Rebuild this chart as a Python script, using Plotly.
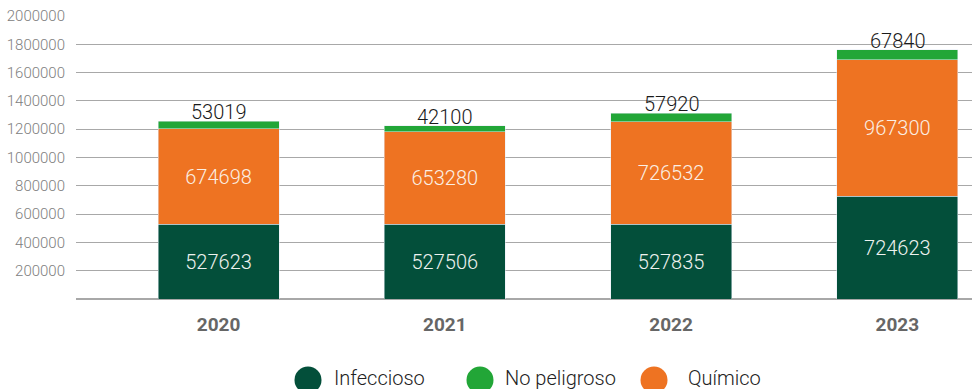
import plotly.graph_objects as go

# Residuos generados por año y tipo
years = ["2020", "2021", "2022", "2023"]
infeccioso = [527623, 527506, 527835, 724623]
quimico = [674698, 653280, 726532, 967300]
no_peligroso = [53019, 42100, 57920, 67840]

series_names = ["Infeccioso", "No peligroso", "Químico"]
y_ticks = [200000, 400000, 600000, 800000, 1000000, 1200000, 1400000, 1600000, 1800000, 2000000]

C_INF = "#034f3a"
C_NOP = "#22a637"
C_QUI = "#ee7322"
FONT = "Roboto"
LIGHT = 300

fig = go.Figure()
bar_w = 0.535
fig.add_trace(go.Bar(
    x=years, y=infeccioso, name="Infeccioso", marker_color=C_INF, width=bar_w,
    text=[str(v) for v in infeccioso], textposition="inside", insidetextanchor="middle",
    insidetextfont=dict(family=FONT, size=20, color="#eef2ef", weight=LIGHT), textangle=0,
))
fig.add_trace(go.Bar(
    x=years, y=quimico, name="Químico", marker_color=C_QUI, width=bar_w,
    text=[str(v) for v in quimico], textposition="inside", insidetextanchor="middle",
    insidetextfont=dict(family=FONT, size=20, color="#fbefe4", weight=LIGHT), textangle=0,
))
fig.add_trace(go.Bar(
    x=years, y=no_peligroso, name="No peligroso", marker_color=C_NOP, width=bar_w,
))

# Valor de "No peligroso" sobre cada columna (posición por índice de categoría)
totals = [a + b + c for a, b, c in zip(infeccioso, quimico, no_peligroso)]
annotations = []
for i, (tot, v) in enumerate(zip(totals, no_peligroso)):
    annotations.append(dict(
        x=i, y=tot, xref="x", yref="y", text=str(v), showarrow=False,
        yanchor="middle", yshift=9,
        font=dict(family=FONT, size=20, color="#1a1a1a", weight=LIGHT),
    ))

# Leyenda con círculos grandes
legend_items = [("Infeccioso", C_INF, 308, 332), ("No peligroso", C_NOP, 480, 503), ("Químico", C_QUI, 654, 686)]
shapes = []
plot_l, plot_w, plot_b, plot_h = 76, 896, 299, 283
for label, col, cx, tx in legend_items:
    xp = (cx - plot_l) / plot_w
    yp = (plot_b - 380) / plot_h
    shapes.append(dict(
        type="circle", xref="paper", yref="paper", xsizemode="pixel", ysizemode="pixel",
        xanchor=xp, yanchor=yp, x0=-13.5, x1=13.5, y0=-13.5, y1=13.5,
        fillcolor=col, line=dict(width=0),
    ))
    annotations.append(dict(
        x=(tx - plot_l) / plot_w, y=(plot_b - 378) / plot_h, xref="paper", yref="paper",
        text=label, showarrow=False, xanchor="left", yanchor="middle",
        font=dict(family=FONT, size=20, color="#222222", weight=LIGHT),
    ))

fig.update_layout(
    barmode="stack",
    width=972, height=389,
    margin=dict(l=76, r=0, t=16, b=90),
    paper_bgcolor="white", plot_bgcolor="white",
    showlegend=False,
    annotations=annotations,
    shapes=shapes,
    font=dict(family=FONT),
)
fig.update_xaxes(
    type="category", range=[-0.63, 3.33], showgrid=False, showline=False, ticks="",
    tickfont=dict(family=FONT, size=19, color="#666666", weight="bold"),
    ticklabelstandoff=12,
)
fig.update_yaxes(
    range=[0, 2000000], tickvals=y_ticks, ticktext=[str(v) for v in y_ticks],
    showgrid=True, gridcolor="#a8a8a8", gridwidth=1,
    zeroline=True, zerolinecolor="#a8a8a8", zerolinewidth=1.5,
    showline=False, ticks="", ticklabelstandoff=10,
    tickfont=dict(family=FONT, size=15, color="#808080", weight=LIGHT),
)

fig.write_html("out.html")
